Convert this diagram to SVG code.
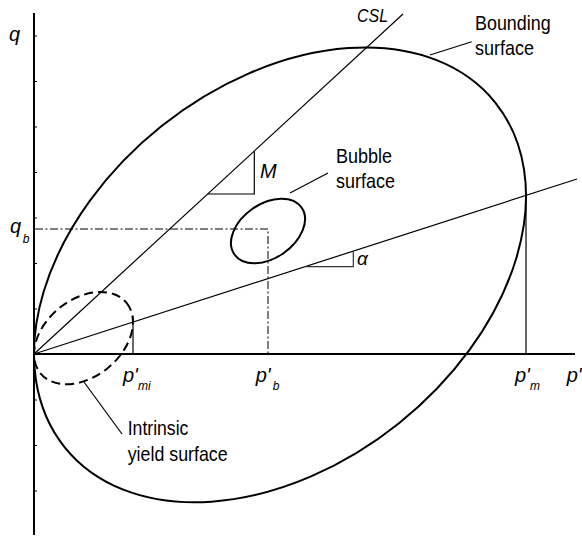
<svg xmlns="http://www.w3.org/2000/svg" width="582" height="542" viewBox="0 0 582 542">
<style>
text{font-family:"Liberation Sans",Arial,sans-serif;fill:#000}
.lbl{font-size:20px}
.note{font-size:21px}
.it{font-style:italic}
.sub{font-size:12px;font-style:italic}
.axis{stroke:#000;stroke-width:2;fill:none}
.thin{stroke:#000;stroke-width:1.2;fill:none}
.curve{stroke:#000;stroke-width:2;fill:none}
.dashdot{stroke:#000;stroke-width:1;fill:none;stroke-dasharray:8 2.5 2 2.5}
</style>
<rect width="582" height="542" fill="#fff"/>
<g id="axes">
<line class="axis" x1="34" y1="13" x2="34" y2="535"/>
<line class="axis" x1="34" y1="354" x2="575" y2="354"/>
<path class="thin" d="M34 36h3M34 81.5h3M34 127h3M34 172.5h3M34 218h3M34 263.5h3M34 309h3M34 400h3M34 445.5h3M34 491h3"/>
<text class="lbl it" x="9" y="40.5">q</text>
<text class="lbl it" x="566.7" y="382">p'</text>
</g>
<g id="csl">
<line class="thin" x1="34" y1="354" x2="403" y2="14"/>
<polyline class="thin" points="207.7,194 254.3,194 254.3,151.3"/>
<text class="it" x="357" y="22" font-size="18" textLength="31" lengthAdjust="spacingAndGlyphs">CSL</text>
<text class="lbl it" x="260" y="178">M</text>
</g>
<g id="alpha-line">
<line class="thin" x1="34" y1="354" x2="577" y2="179"/>
<polyline points="305.5,266.7 353.3,266.7 353.3,251.4" fill="none" stroke="#333" stroke-width="1.2"/>
<text class="it" x="357" y="265" font-size="19">α</text>
</g>
<g id="bounding-surface">
<ellipse class="curve" cx="280" cy="274.9" rx="275.79" ry="190.17" transform="rotate(-38.62 280 274.9)"/>
<line class="thin" x1="526" y1="354" x2="526" y2="196"/>
<text class="lbl it" x="515" y="382">p'<tspan class="sub" dy="8">m</tspan></text>
<text class="note" x="475" y="30" textLength="75.7" lengthAdjust="spacingAndGlyphs">Bounding</text>
<text class="note" x="475" y="55" textLength="59" lengthAdjust="spacingAndGlyphs">surface</text>
</g>
<g id="bubble-surface">
<ellipse class="curve" cx="268" cy="231" rx="40.93" ry="27.12" transform="rotate(-34.8 268 231)"/>
<polyline class="dashdot" points="35,229 268,229 268,354"/>
<text class="lbl it" x="10" y="233.4">q<tspan class="sub" dx="1.5" dy="9.6">b</tspan></text>
<text class="lbl it" x="255.7" y="382">p'<tspan class="sub" dx="2" dy="8">b</tspan></text>
<text class="note" x="336" y="163" textLength="56" lengthAdjust="spacingAndGlyphs">Bubble</text>
<text class="note" x="336" y="188" textLength="59" lengthAdjust="spacingAndGlyphs">surface</text>
</g>
<g id="intrinsic-yield-surface">
<ellipse cx="83.5" cy="338.1" rx="55.62" ry="38.54" transform="rotate(-39.23 83.5 338.1)" fill="none" stroke="#000" stroke-width="2" stroke-dasharray="9 5"/>
<line class="thin" x1="133" y1="354" x2="133" y2="316"/>
<text class="lbl it" x="123" y="382">p'<tspan class="sub" dy="8">mi</tspan></text>
<text class="note" x="127.7" y="435" textLength="60.7" lengthAdjust="spacingAndGlyphs">Intrinsic</text>
<text class="note" x="127.7" y="461" textLength="100" lengthAdjust="spacingAndGlyphs">yield surface</text>
</g>
<g id="connectors">
<line class="thin" x1="430" y1="55" x2="471.7" y2="41.7"/>
<line class="thin" x1="290" y1="193" x2="328" y2="173"/>
<line class="thin" x1="84" y1="382" x2="122" y2="434"/>
</g>
</svg>
